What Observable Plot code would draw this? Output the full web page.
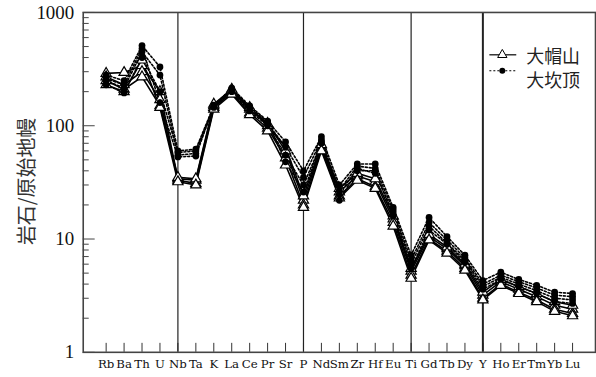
<!DOCTYPE html>
<html><head><meta charset="utf-8">
<script src="https://cdn.jsdelivr.net/npm/d3@7"></script>
<script src="https://cdn.jsdelivr.net/npm/@observablehq/plot@0.6"></script>
<style>html,body{margin:0;padding:0;background:#fff;overflow:hidden;width:596px;height:377px}</style>
</head><body><div id="chart"></div>
<script>
const elements = ["Rb","Ba","Th","U","Nb","Ta","K","La","Ce","Pr","Sr","P","Nd","Sm","Zr","Hf","Eu","Ti","Gd","Tb","Dy","Y","Ho","Er","Tm","Yb","Lu"];
const dividers = ["Nb","P","Ti","Y"];
const yTickLabels = [1, 10, 100, 1000];
const groupNames = ["大帽山", "大坎顶"];

// 大帽山 samples (open triangles, solid line)
const damaoshan1 = [290,295,340,200,34,33,150,205,140,105,60,22,65,26,36,32,15,5.2,10.5,8.2,5.8,3.2,4.2,3.6,3.1,2.6,2.4];
const damaoshan2 = [270,230,300,170,33,31,145,195,130,95,52,20,62,24,34,29,14,4.8,10.0,7.8,5.5,3.0,4.0,3.4,2.9,2.4,2.2];
const damaoshan3 = [250,210,270,150,35,34,155,210,145,100,65,24,68,28,38,34,16,5.5,11.0,8.5,6.0,3.4,4.4,3.8,3.3,2.8,2.6];
const damaoshan4 = [230,200,380,145,32,30,140,190,125,90,45,19,60,23,33,28,13,4.5,9.8,7.5,5.3,2.9,3.9,3.3,2.8,2.3,2.1];
// 大坎顶 samples (filled circles, dotted line)
const dakanding1 = [280,250,510,330,60,62,150,215,150,110,72,40,80,30,46,46,19,7.2,15.5,10.5,7.2,4.3,5.1,4.4,3.9,3.4,3.3];
const dakanding2 = [250,215,450,280,55,57,145,205,140,105,65,35,75,27,44,42,18,6.5,14.0,9.8,6.8,4.0,4.8,4.2,3.7,3.2,3.1];
const dakanding3 = [230,195,400,200,58,60,148,200,135,100,55,30,70,25,42,38,17,6.0,13.0,9.2,6.5,3.8,4.6,4.0,3.5,3.0,2.9];
const dakanding4 = [260,230,480,160,53,54,152,210,145,108,48,26,72,22,40,40,16,5.5,12.0,9.0,6.2,3.6,4.4,3.8,3.3,2.8,2.7];

const tidy = (name, arrs) => arrs.flatMap((arr, i) => arr.map((v, j) => ({group: name, sample: name + i, el: elements[j], v})));
const rowsA = tidy(groupNames[0], [damaoshan1, damaoshan2, damaoshan3, damaoshan4]);
const rowsB = tidy(groupNames[1], [dakanding1, dakanding2, dakanding3, dakanding4]);

const minorTicks = [];
for (const d of [1, 10, 100]) for (let k = 2; k <= 9; k++) minorTicks.push(d * k);

const serif = "'Liberation Serif', 'DejaVu Serif', serif";

const chart = Plot.plot({
  width: 598, height: 377,
  marginLeft: 83, marginRight: 1, marginTop: 12, marginBottom: 24,
  x: {type: "point", domain: elements, padding: 1},
  y: {type: "log", domain: [1, 1000]},
  marks: [
    Plot.axisY({ticks: yTickLabels, tickSize: 0, tickPadding: 9, fontSize: 19, fontFamily: serif, fill: "#111", tickFormat: d => String(d), label: null}),
    Plot.axisY({ticks: yTickLabels, tickSize: 12, dx: 12, fill: "none", label: null, stroke: "#444"}),
    Plot.axisY({ticks: minorTicks, tickSize: 6, dx: 6, fill: "none", label: null, stroke: "#444"}),
    Plot.axisX({tickSize: 9, dy: -9, fill: "none", label: null, stroke: "#333"}),
    Plot.axisX({tickSize: 0, tickPadding: 7, fontSize: 11.8, fontFamily: "'DejaVu Serif', serif", fill: "#111", label: null}),
    Plot.ruleX(dividers, {stroke: "#222", strokeWidth: d => d === "Y" ? 2 : 1.2}),
    Plot.line(rowsA, {x: "el", y: "v", z: "sample", stroke: "black", strokeWidth: 1.6}),
    Plot.line(rowsB, {x: "el", y: "v", z: "sample", stroke: "black", strokeWidth: 1.6, strokeDasharray: "2,2"}),
    Plot.dot(rowsA, {x: "el", y: "v", symbol: "triangle", r: 3.8, fill: "white", stroke: "black", strokeWidth: 1.2}),
    Plot.dot(rowsB, {x: "el", y: "v", symbol: "circle", r: 3.4, fill: "black"}),
    Plot.frame({stroke: "#444", strokeWidth: 1.6})
  ]
});
document.getElementById("chart").appendChild(chart);

const svg = d3.select(chart);
svg.append("text")
  .attr("transform", "translate(26,182) rotate(-90)")
  .attr("text-anchor", "middle").attr("dominant-baseline", "central")
  .attr("font-family", "'Noto Sans CJK SC', sans-serif").attr("font-size", 20).attr("fill", "#333")
  .text("岩石/原始地幔");

const lg = svg.append("g");
lg.append("line").attr("x1", 491).attr("x2", 518).attr("y1", 55).attr("y2", 55).attr("stroke", "black").attr("stroke-width", 1.2);
lg.append("path").attr("d", d3.symbol(d3.symbolTriangle, 38)()).attr("transform", "translate(504,55)").attr("fill", "white").attr("stroke", "black");
lg.append("line").attr("x1", 491).attr("x2", 518).attr("y1", 71).attr("y2", 71).attr("stroke", "black").attr("stroke-width", 1.2).attr("stroke-dasharray", "2,2");
lg.append("circle").attr("cx", 504).attr("cy", 71).attr("r", 3).attr("fill", "black");
lg.selectAll("text.lgt").data(groupNames).join("text")
  .attr("x", 528).attr("y", (d, i) => i === 0 ? 55 : 79)
  .attr("text-anchor", "start")
  .attr("dominant-baseline", "central")
  .attr("font-family", "'Noto Sans CJK SC', sans-serif").attr("font-size", 18).attr("fill", "#222")
  .text(d => d);
</script>
</body></html>
